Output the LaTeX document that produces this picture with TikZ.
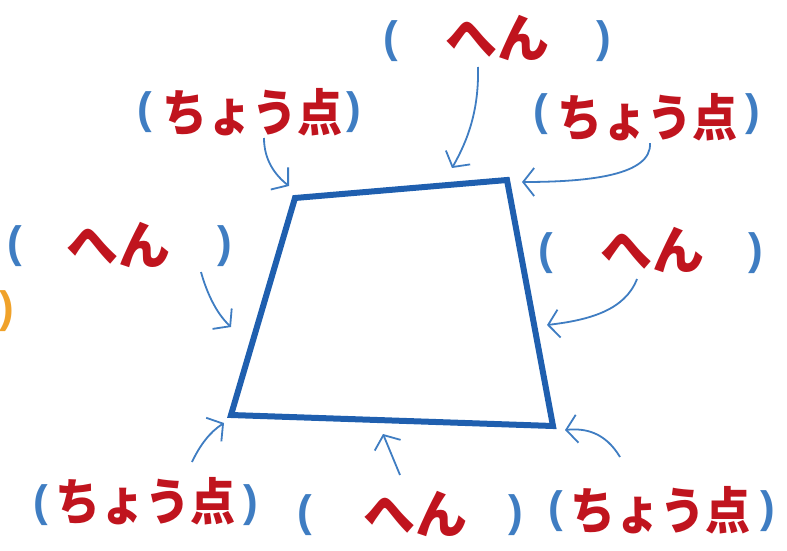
\documentclass[tikz,border=0pt]{standalone}
\usepackage{fontspec}
\newfontfamily\cjk{Noto Sans CJK JP}
\newfontfamily\pfont{Liberation Sans}
\usetikzlibrary{arrows.meta}
\definecolor{quadblue}{HTML}{1F5FAF}
\definecolor{lblue}{HTML}{3F7DC2}
\definecolor{jred}{HTML}{C0141E}
\definecolor{jorange}{HTML}{F0A22A}
\begin{document}
\begin{tikzpicture}[x=1pt,y=-1pt,
  lbl/.style={font=\cjk\bfseries\fontsize{45}{45}\selectfont, text=jred, inner sep=0pt, yscale=1.12},
  hen/.style={font=\cjk\bfseries\fontsize{52}{52}\selectfont, text=jred, inner sep=0pt},
  par/.style={font=\pfont\bfseries\fontsize{44}{44}\selectfont, text=lblue, inner sep=0pt},
  opar/.style={font=\pfont\bfseries\fontsize{44}{44}\selectfont, text=jorange, inner sep=0pt},
  arr/.style={draw=lblue, line width=1.8pt, -{Straight Barb[length=11pt,width=28pt]}},
  quad/.style={draw=quadblue, line width=6pt, line join=miter}]
\useasboundingbox (0,0) rectangle (787,551);
% quadrilateral
\coordinate (A) at (295,198);
\coordinate (B) at (507,180);
\coordinate (C) at (553,426);
\coordinate (D) at (231,415);
\draw[quad] (A) -- (B) -- (C) -- (D) -- cycle;
% labels
\node[par] (p1l) at (391,41) {(};
\node[hen] (t1) at (497,38) {へん};
\node[par] (p1r) at (604,41) {)};
\node[par] (p2l) at (145,112) {(};
\node[lbl,transform shape] (t2) at (252,112) {ちょう点};
\node[par] (p2r) at (354,112) {)};
\node[par] (p3l) at (541,114) {(};
\node[lbl,transform shape] (t3) at (647,117) {ちょう点};
\node[par] (p3r) at (753,114) {)};
\node[par] (p4l) at (15,246) {(};
\node[hen] (t4) at (118,245) {へん};
\node[par] (p4r) at (225,246) {)};
\node[opar] (p5) at (7,311) {)};
\node[par] (p6l) at (546,253) {(};
\node[hen] (t6) at (652,250) {へん};
\node[par] (p6r) at (756,253) {)};
\node[par] (p7l) at (41,505) {(};
\node[lbl,transform shape] (t7) at (145,501) {ちょう点};
\node[par] (p7r) at (251,505) {)};
\node[par] (p8l) at (305,515) {(};
\node[hen] (t8) at (415,514) {へん};
\node[par] (p8r) at (516,515) {)};
\node[par] (p9l) at (556,511) {(};
\node[lbl,transform shape] (t9) at (660,510) {ちょう点};
\node[par] (p9r) at (768,511) {)};
% arrow ends
\coordinate (a0) at (478,67);   \coordinate (a1) at (452,168);
\coordinate (b0) at (264,138);  \coordinate (b1) at (289,186);
\coordinate (c0) at (650,143);  \coordinate (c1) at (522,182);
\coordinate (d0) at (201,272);  \coordinate (d1) at (231,327);
\coordinate (e0) at (637,279);  \coordinate (e1) at (547,325);
\coordinate (f0) at (192,462);  \coordinate (f1) at (224,423);
\coordinate (g0) at (400,475);  \coordinate (g1) at (383,434);
\coordinate (h0) at (620,457);  \coordinate (h1) at (565,430);
\draw[arr] (a0) .. controls (479,110) and (468,140) .. (a1);
\draw[arr] (b0) .. controls (264,160) and (275,175) .. (b1);
\draw[arr] (c0) .. controls (652,175) and (590,182) .. (c1);
\draw[arr] (d0) .. controls (206,290) and (215,312) .. (d1);
\draw[arr] (e0) .. controls (625,310) and (590,320) .. (e1);
\draw[arr] (f0) .. controls (200,445) and (210,432) .. (f1);
\draw[arr] (g0) -- (g1);
\draw[arr] (h0) .. controls (605,432) and (585,428) .. (h1);
\end{tikzpicture}
\end{document}
